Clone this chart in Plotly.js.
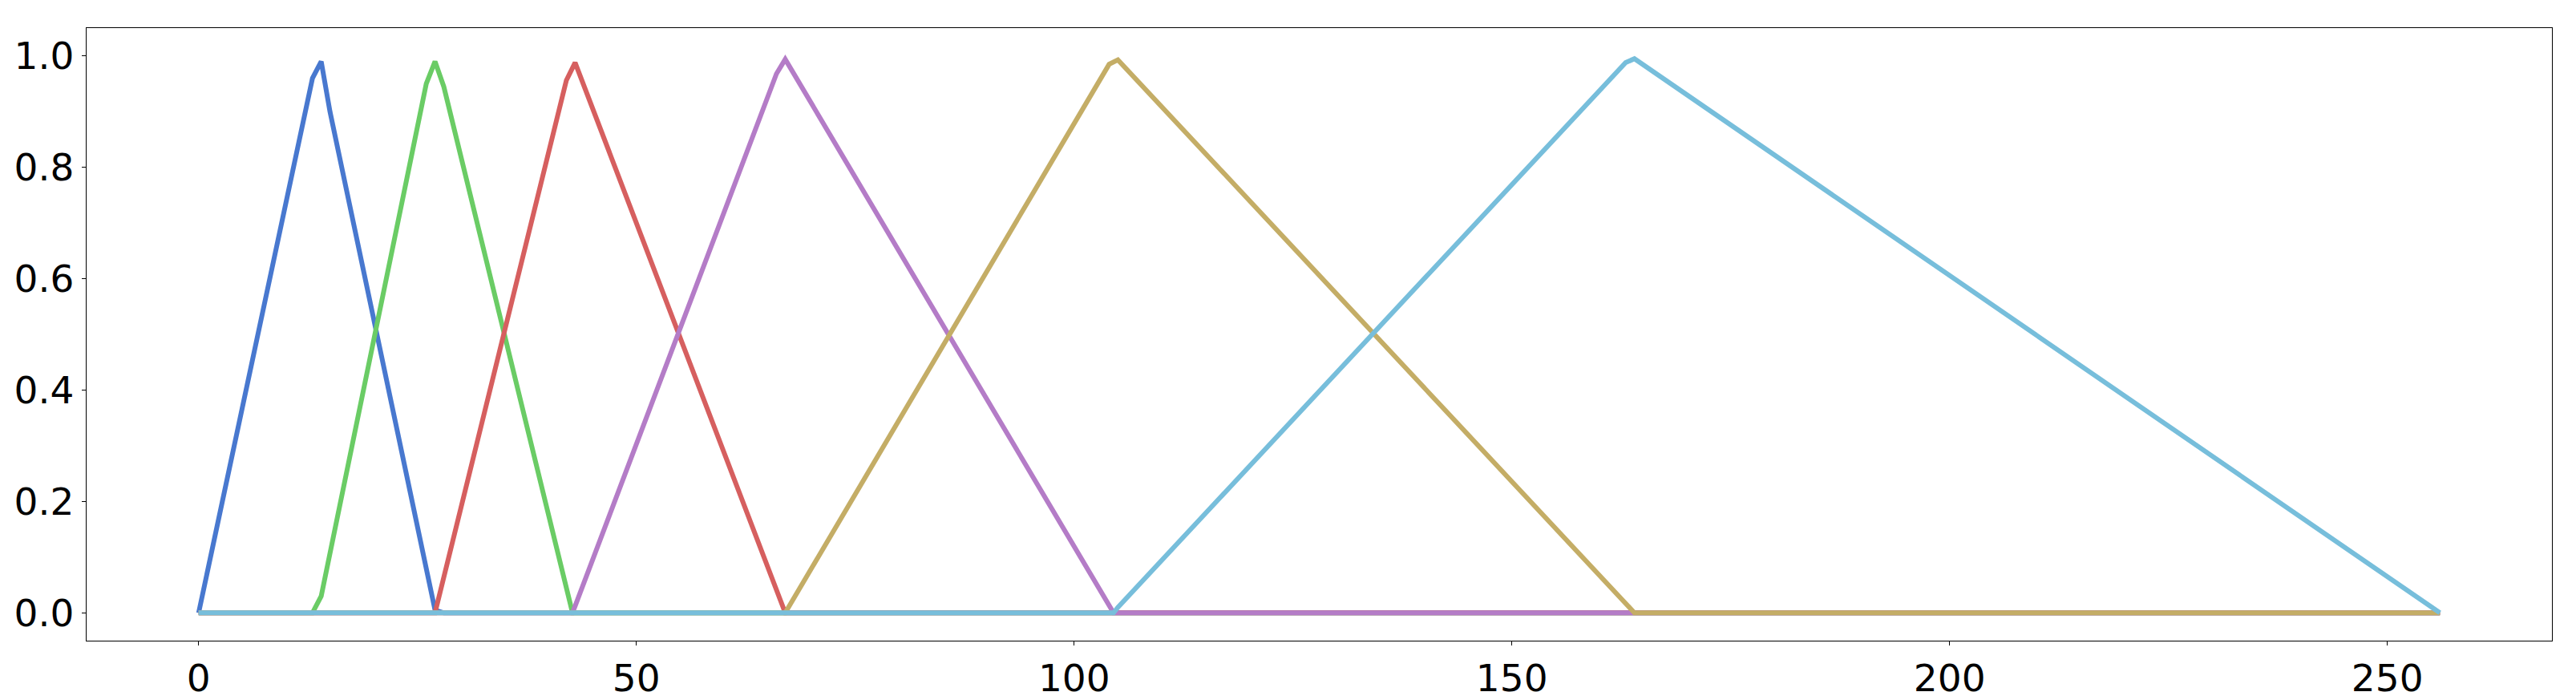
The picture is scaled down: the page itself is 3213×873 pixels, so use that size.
<!DOCTYPE html>
<html>
<head>
<meta charset="utf-8">
<script src="https://cdn.plot.ly/plotly-3.0.1.min.js"></script>
<style>
  html, body { margin: 0; padding: 0; background: #fff; }
  #MainGraphView { width: 3213px; height: 873px; }
</style>
</head>
<body>
<div id="MainGraphView"></div>
<script>
// membership curves (x = grey level, y = degree)
var blueX = [0, 13, 14, 15, 27, 28, 256];
var blueY = [0, 0.96, 0.99, 0.90, 0.005, 0, 0];

var greenX = [0, 13, 14, 26, 27, 28, 42.7, 256];
var greenY = [0, 0, 0.03, 0.95, 0.99, 0.945, 0, 0];

var redX = [0, 27, 42, 43, 67, 256];
var redY = [0, 0, 0.956, 0.988, 0, 0];

var purpleX = [0, 42.7, 43, 66, 67, 104.5, 256];
var purpleY = [0, 0, 0.012, 0.968, 0.994, 0, 0];

var goldX = [0, 67, 104, 105, 164, 256];
var goldY = [0, 0, 0.985, 0.993, 0, 0];

var lightBlueX = [0, 104.5, 105, 163, 164, 256];
var lightBlueY = [0, 0, 0.01, 0.988, 0.995, 0];

var xTicks = [0, 50, 100, 150, 200, 250];
var yTicks = [0, 0.2, 0.4, 0.6, 0.8, 1.0];

var colors = ['#4878CF', '#6ACC65', '#D65F5F', '#B47CC7', '#C4AD66', '#77BEDB'];
var allX = [blueX, greenX, redX, purpleX, goldX, lightBlueX];
var allY = [blueY, greenY, redY, purpleY, goldY, lightBlueY];

var data = [];
for (var i = 0; i < allX.length; i++) {
    data.push({
        x: allX[i],
        y: allY[i],
        type: 'scatter',
        mode: 'lines',
        line: {color: colors[i], width: 6},
        hoverinfo: 'skip'
    });
}

var axisStyle = {
    showgrid: false,
    zeroline: false,
    showline: true,
    mirror: true,
    linecolor: '#000',
    linewidth: 1.3,
    ticks: 'outside',
    ticklen: 5,
    tickwidth: 1,
    tickcolor: '#000'
};

var layout = {
    width: 3213,
    height: 873,
    showlegend: false,
    paper_bgcolor: '#fff',
    plot_bgcolor: '#fff',
    margin: {l: 108, r: 30, t: 35, b: 74},
    font: {family: 'DejaVu Sans', size: 47, color: '#000'},
    xaxis: Object.assign({}, axisStyle, {
        range: [-12.8, 268.8],
        tickmode: 'array',
        tickvals: xTicks,
        ticktext: xTicks.map(function (v) { return String(v); })
    }),
    yaxis: Object.assign({}, axisStyle, {
        range: [-0.05, 1.05],
        tickmode: 'array',
        tickvals: yTicks,
        ticktext: yTicks.map(function (v) { return v.toFixed(1); })
    })
};

Plotly.newPlot('MainGraphView', data, layout, {staticPlot: true});
</script>
</body>
</html>
